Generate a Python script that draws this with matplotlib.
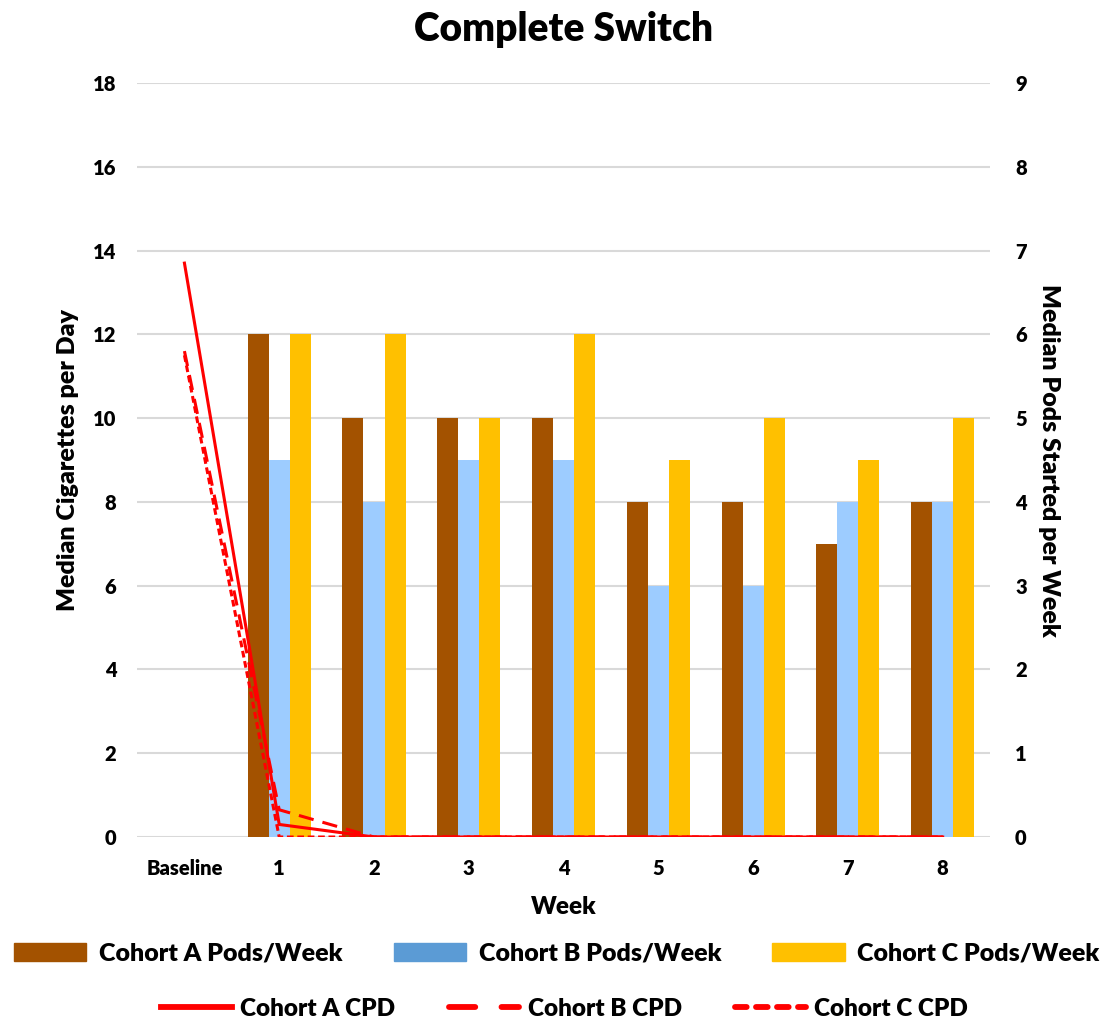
import numpy as np
import matplotlib.pyplot as plt
from matplotlib.patches import Patch
from matplotlib.lines import Line2D

plt.rcParams['font.family'] = ['Lato', 'DejaVu Sans']
plt.rcParams['font.weight'] = 'heavy'

weeks = ["Baseline", "1", "2", "3", "4", "5", "6", "7", "8"]

# median pods started per week (right axis), weeks 1-8
pods_a = [6, 5, 5, 5, 4, 4, 3.5, 4]
pods_b = [4.5, 4, 4.5, 4.5, 3, 3, 4, 4]
pods_c = [6, 6, 5, 6, 4.5, 5, 4.5, 5]

# median cigarettes per day (left axis), baseline + weeks 1-8
cpd_a = [13.7, 0.3, 0, 0, 0, 0, 0, 0, 0]
cpd_b = [11.6, 0.65, 0, 0, 0, 0, 0, 0, 0]
cpd_c = [11.5, 0, 0, 0, 0, 0, 0, 0, 0]

col_a = "#A35200"
col_b = "#9DCCFF"
col_c = "#FFC000"
col_b_legend = "#5B9BD5"
red = "#FF0000"

fig = plt.figure(figsize=(11.07, 10.22), dpi=100)
ax = fig.add_axes([0.1238, 0.181, 0.7706, 0.7378])
axr = ax.twinx()
ax.set_zorder(axr.get_zorder() + 1)
ax.patch.set_visible(False)

x = np.arange(len(weeks))
xb = x[1:]
w = 0.222
axr.bar(xb - w, pods_a, w, color=col_a, linewidth=0)
axr.bar(xb, pods_b, w, color=col_b, linewidth=0)
axr.bar(xb + w, pods_c, w, color=col_c, linewidth=0)

ax.plot(x, cpd_a, color=red, lw=2.2, solid_joinstyle="miter")
ax.plot(x, cpd_b, color=red, lw=2.2, linestyle=(0, (5, 3)))
ax.plot(x, cpd_c, color=red, lw=2.2, linestyle=(0, (2.2, 1.2)))

ax.set_xlim(-0.5, 8.5)
ax.set_ylim(0, 18)
axr.set_ylim(0, 9)
ax.set_yticks(range(0, 19, 2))
axr.set_yticks(range(0, 10))
ax.set_xticks(x)
ax.set_xticklabels(weeks)

axr.grid(axis="y", color="#D9D9D9", lw=1.5)
axr.set_axisbelow(True)
ax.grid(False)

for a in (ax, axr):
    for s in a.spines.values():
        s.set_visible(False)
    a.tick_params(length=0, labelsize=14.5)
ax.tick_params(axis="y", pad=15)
axr.tick_params(axis="y", pad=18)
ax.tick_params(axis="x", pad=16)

ax.set_title("Complete Switch", fontsize=28, fontweight="heavy", pad=30)
ax.set_xlabel("Week", fontsize=17.5, fontweight="heavy", labelpad=13)
ax.set_ylabel("Median Cigarettes per Day", fontsize=18, fontweight="heavy", labelpad=10)
axr.set_ylabel("Median Pods Started per Week", fontsize=18, fontweight="heavy",
               rotation=270, labelpad=24)

bar_handles = [Patch(color=col_a), Patch(color=col_b_legend), Patch(color=col_c)]
bar_labels = ["Cohort A Pods/Week", "Cohort B Pods/Week", "Cohort C Pods/Week"]
fig.legend(bar_handles, bar_labels, ncol=3, loc="center",
           bbox_to_anchor=(0.503, 0.067), frameon=False, fontsize=18,
           handlelength=2.9, handleheight=0.7, handletextpad=0.5,
           columnspacing=2.05)

line_handles = [Line2D([], [], color=red, lw=4.2),
                Line2D([], [], color=red, lw=4.2, linestyle=(0, (4.5, 4.5)),
                       dash_capstyle="round"),
                Line2D([], [], color=red, lw=4.2, linestyle=(0, (2.0, 1.6)),
                       dash_capstyle="round")]
line_labels = ["Cohort A CPD", "Cohort B CPD", "Cohort C CPD"]
fig.legend(line_handles, line_labels, ncol=3, loc="center",
           bbox_to_anchor=(0.51, 0.013), frameon=False, fontsize=17.5,
           handlelength=2.9, handletextpad=0.35, columnspacing=2.2)

fig.savefig("out.png", dpi=100)
